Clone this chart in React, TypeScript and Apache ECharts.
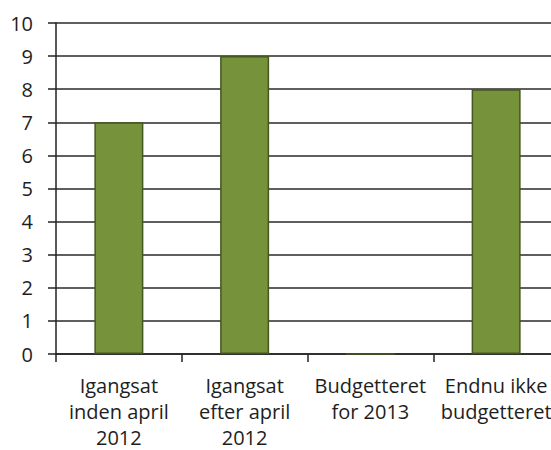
import React, { useEffect, useRef } from "react";
import * as echarts from "echarts";

const categories = [
  "Igangsat\ninden april\n2012",
  "Igangsat\nefter april\n2012",
  "Budgetteret\nfor 2013",
  "Endnu ikke\nbudgetteret",
];
const values = [7, 9, 0, 8];
const yMin = 0;
const yMax = 10;
const yInterval = 1;

export default function App() {
  const ref = useRef<HTMLDivElement>(null);
  useEffect(() => {
    if (!ref.current) return;
    const chart = echarts.init(ref.current, undefined, { renderer: "svg" });
    chart.setOption({
      animation: false,
      backgroundColor: "#ffffff",
      grid: { left: 56, right: 1, top: 23, bottom: 96, containLabel: false },
      xAxis: {
        type: "category",
        data: categories,
        axisLine: { show: true, lineStyle: { color: "#222", width: 1.5 } },
        axisTick: { show: true, length: 8, lineStyle: { color: "#222", width: 1.5 } },
        axisLabel: {
          interval: 0,
          margin: 18,
          fontFamily: "Open Sans",
          fontSize: 20,
          lineHeight: 26,
          color: "#1e1e1e",
        },
        splitLine: { show: false },
      },
      yAxis: {
        type: "value",
        min: yMin,
        max: yMax,
        interval: yInterval,
        axisLine: { show: true, lineStyle: { color: "#222", width: 1.5 } },
        axisTick: { show: true, length: 8, lineStyle: { color: "#222", width: 1.5 } },
        axisLabel: {
          margin: 23,
          fontFamily: "Open Sans",
          fontSize: 20,
          color: "#1e1e1e",
        },
        splitLine: { show: true, lineStyle: { color: "#2a2a2a", width: 1.5 } },
      },
      series: [
        {
          type: "bar",
          data: values,
          barWidth: 49,
          itemStyle: { color: "#76933c", borderColor: "#44571f", borderWidth: 1.5 },
        },
      ],
    });
    return () => chart.dispose();
  }, []);
  return (
    <div
      style={{ position: "fixed", left: 0, top: 0, width: 551, height: 450, overflow: "hidden", background: "#fff" }}
    >
      <div ref={ref} style={{ width: 560, height: 450 }} />
    </div>
  );
}
